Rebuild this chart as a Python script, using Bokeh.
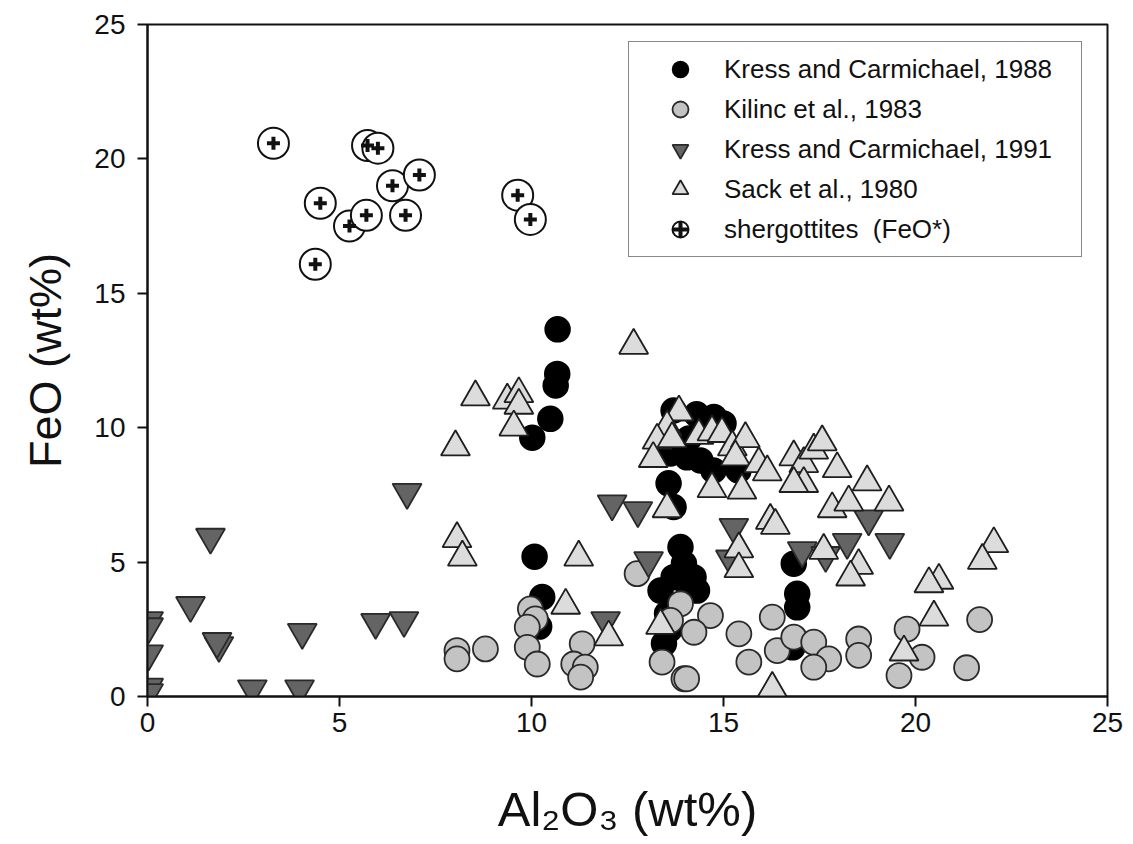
from bokeh.plotting import figure
from bokeh.models import Range1d, FixedTicker, Legend, LegendItem
from bokeh.embed import file_html
from bokeh.resources import INLINE

# ---------------- data ----------------
kc88_x = [10.68, 10.67, 10.63, 10.49, 10.02, 10.08, 10.28, 10.2,
          13.7, 14.3, 14.75, 15.0, 13.62, 14.05, 14.4, 14.74, 15.39, 13.57, 13.7, 14.1, 14.5,
          13.88, 13.97, 14.05, 14.31, 14.22, 13.7, 13.36, 13.53, 13.45, 13.6,
          16.83, 16.92, 16.92, 16.8]
kc88_y = [13.66, 12.0, 11.57, 10.33, 9.63, 5.2, 3.7, 2.6,
          10.64, 10.5, 10.4, 10.16, 9.04, 8.9, 8.78, 8.41, 8.41, 7.93, 7.05, 9.6, 9.9,
          5.56, 4.94, 4.2, 3.94, 4.44, 4.44, 3.94, 3.08, 1.97, 2.5,
          4.94, 3.82, 3.32, 1.83]

kil_x = [8.06, 8.06, 8.8, 9.97, 10.1, 9.89, 9.89, 10.15, 11.32, 11.1, 11.4, 11.28,
         12.75, 13.88, 13.62, 14.66, 14.23, 13.4, 13.97, 14.04, 15.4, 15.66, 16.27, 16.4,
         16.83, 17.35, 17.74, 17.35, 18.52, 18.52, 19.78, 20.17, 19.57, 21.33, 21.67]
kil_y = [1.71, 1.4, 1.77, 3.26, 2.89, 2.58, 1.83, 1.21, 1.96, 1.21, 1.09, 0.72,
         4.57, 3.45, 2.83, 3.01, 2.39, 1.28, 0.66, 0.66, 2.33, 1.28, 2.95, 1.71,
         2.21, 2.02, 1.4, 1.09, 2.14, 1.53, 2.51, 1.46, 0.78, 1.07, 2.86]

kc91_x = [0.03, 0.03, 0.03, 0.03, 0.03, 1.12, 1.64, 1.86, 1.81, 2.73, 3.96, 4.03, 5.94, 6.68, 6.76,
          12.1, 12.77, 11.93, 13.05, 15.27, 15.18, 18.78, 18.22, 19.33, 17.05, 17.66]
kc91_y = [2.83, 2.6, 1.59, 0.35, 0.15, 3.39, 5.93, 1.9, 2.05, 0.29, 0.29, 2.39, 2.76, 2.83, 7.6,
          7.17, 6.92, 2.83, 5.06, 6.3, 5.12, 6.61, 5.74, 5.74, 5.43, 5.25]

sack_x = [12.66, 8.54, 9.37, 9.67, 9.67, 9.54, 8.02, 8.06, 8.2, 11.23, 10.89, 12.01, 13.36, 16.27,
          15.4, 15.4, 16.22, 16.35, 17.61, 17.83,
          13.84, 13.53, 13.27, 13.66, 14.36, 14.7, 14.96, 15.23, 15.57, 13.17, 15.31, 15.92, 16.14,
          16.83, 17.09, 17.35, 17.57, 17.09, 16.83, 17.96, 14.7, 15.48, 13.53,
          18.74, 19.31, 18.26, 18.52, 18.31, 20.61, 20.35, 20.48, 19.7, 22.04, 21.74]
sack_y = [13.06, 11.14, 11.02, 11.26, 10.83, 10.02, 9.28, 5.87, 5.18, 5.18, 3.39, 2.21, 2.64, 0.3,
          5.49, 4.75, 6.55, 6.36, 5.43, 6.98,
          10.58, 10.02, 9.53, 9.59, 9.71, 9.84, 9.78, 9.28, 9.59, 8.85, 8.91, 8.66, 8.35,
          8.91, 8.66, 9.16, 9.47, 7.92, 7.92, 8.47, 7.73, 7.67, 6.98,
          7.98, 7.23, 7.23, 4.87, 4.44, 4.32, 4.19, 2.95, 1.65, 5.68, 5.06]

sherg_x = [3.28, 5.73, 6.0, 4.5, 5.26, 5.7, 6.38, 7.08, 6.72, 4.37, 9.64, 9.97]
sherg_y = [20.58, 20.5, 20.4, 18.35, 17.5, 17.9, 19.0, 19.4, 17.9, 16.08, 18.65, 17.75]

legend_labels = ["Kress and Carmichael, 1988", "Kilinc et al., 1983",
                 "Kress and Carmichael, 1991", "Sack et al., 1980",
                 "shergottites  (FeO*)"]
ticks = [0, 5, 10, 15, 20, 25]
x_title = "Al\u2082O\u2083 (wt%)"
y_title = "FeO (wt%)"

FONT = "Liberation Sans"

# ---------------- figure ----------------
p = figure(width=1133, height=844, output_backend="svg", toolbar_location=None,
           x_range=Range1d(0, 25), y_range=Range1d(0, 25),
           min_border_left=147, min_border_right=26, min_border_top=24, min_border_bottom=148)
p.background_fill_color = "white"
p.border_fill_color = "white"
p.grid.visible = False
p.outline_line_color = "#111111"
p.outline_line_width = 2

for ax in (p.xaxis[0], p.yaxis[0]):
    ax.ticker = FixedTicker(ticks=ticks)
    ax.minor_tick_line_color = None
    ax.major_tick_in = 0
    ax.major_tick_out = 10
    ax.major_tick_line_width = 2
    ax.major_tick_line_color = "#111111"
    ax.axis_line_width = 2
    ax.axis_line_color = "#111111"
    ax.major_label_text_font = FONT
    ax.major_label_text_font_size = "28px"
    ax.major_label_text_color = "#111111"
    ax.axis_label_text_font = FONT
    ax.axis_label_text_font_style = "normal"
    ax.axis_label_text_color = "#111111"

p.xaxis.major_label_standoff = 6
p.yaxis.major_label_standoff = 12

p.yaxis.axis_label = y_title
p.yaxis.axis_label_text_font_size = "45px"
p.yaxis.axis_label_standoff = 20

p.xaxis.axis_label = x_title
p.xaxis.axis_label_text_font_size = "49px"
p.xaxis.axis_label_standoff = 47

# ---------------- series ----------------
r88 = p.scatter(kc88_x, kc88_y, marker="circle", size=25, fill_color="black",
                line_color="black", line_width=1.5)
rkil = p.scatter(kil_x, kil_y, marker="circle", size=25, fill_color="#c3c3c3",
                 line_color="#2a2a2a", line_width=1.8)
r91 = p.scatter(kc91_x, kc91_y, marker="inverted_triangle", size=29, fill_color="#646464",
                line_color="#2a2a2a", line_width=1.8)
rsack = p.scatter(sack_x, sack_y, marker="triangle", size=29, fill_color="#dcdcdc",
                  line_color="#1e1e1e", line_width=1.8)
rsh = p.scatter(sherg_x, sherg_y, marker="circle", size=31, fill_color="white",
                line_color="#111111", line_width=2)
rsh_p = p.scatter(sherg_x, sherg_y, marker="cross", size=13, line_color="#111111",
                  line_width=4)

items = [LegendItem(label=legend_labels[0], renderers=[r88]),
         LegendItem(label=legend_labels[1], renderers=[rkil]),
         LegendItem(label=legend_labels[2], renderers=[r91]),
         LegendItem(label=legend_labels[3], renderers=[rsack]),
         LegendItem(label=legend_labels[4], renderers=[rsh, rsh_p])]
legend = Legend(items=items, location=(481, 439),
                glyph_width=88, glyph_height=40, spacing=0, padding=7,
                label_standoff=0, label_width=350, label_height=40,
                label_text_font=FONT, label_text_font_size="26px", label_text_color="#111111",
                border_line_color="#111111", border_line_width=1.5,
                background_fill_color="white", background_fill_alpha=1.0,
                margin=0)
p.add_layout(legend)

open("out.html", "w").write(file_html(p, INLINE))
